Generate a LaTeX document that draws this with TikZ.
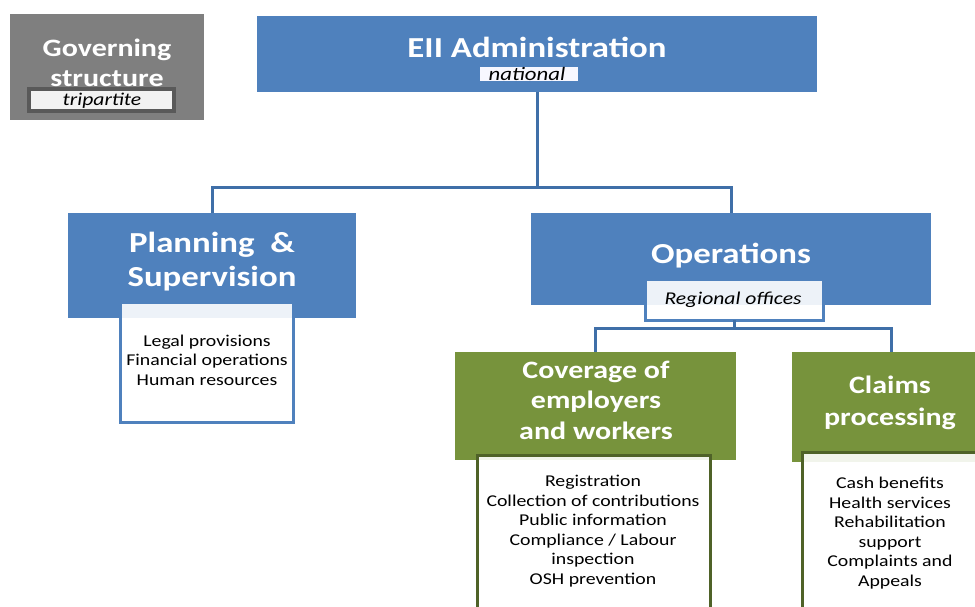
\documentclass[tikz,border=0pt]{standalone}
\usepackage{fontspec}
\setmainfont{Carlito}

\definecolor{eiiblue}{HTML}{4F81BD}
\definecolor{linkblue}{HTML}{3F6FA8}
\definecolor{govgrey}{HTML}{7F7F7F}
\definecolor{rimgrey}{HTML}{595959}
\definecolor{opsgreen}{HTML}{77933C}
\definecolor{rimgreen}{HTML}{4F6228}

\tikzset{
  pane/.style={rectangle,inner sep=0pt,outer sep=0pt},
  bluebox/.style={pane,fill=eiiblue},
  greenbox/.style={pane,fill=opsgreen},
  listbox/.style={pane,fill=white,fill opacity=0.9,draw=#1,line width=3pt},
  tag/.style={pane,fill=#1},
  txt/.style={inner sep=0pt,align=center,xscale=1.2},
  head/.style={txt,text=white,font=\fontsize{29}{34}\selectfont\bfseries},
  subhead/.style={txt,text=white,font=\fontsize{25}{30.5}\selectfont\bfseries},
  items/.style={txt,font=\fontsize{16.5}{19.5}\selectfont},
  remark/.style={txt,font=\fontsize{18}{20}\selectfont\itshape},
  link/.style={linkblue,line width=3pt}
}

\begin{document}
\begin{tikzpicture}[x=1pt,y=-1pt]
  \useasboundingbox (0,0) rectangle (975,607);
  \clip (0,0) rectangle (975,607);

%% governing structure, top left
  \node[pane,fill=govgrey,minimum width=194pt,minimum height=106pt] (GOV) at (107,67) {};
  \node[subhead,font=\fontsize{25}{30}\selectfont\bfseries] (GOVT) at (107,62.5) {Governing\\structure};
  \node[tag=rimgrey,minimum width=149pt,minimum height=26pt] (TRI) at (101.5,100) {};
  \node[tag=black!5,minimum width=141pt,minimum height=18pt] (TRII) at (101.5,100) {};
  \node[remark] (TRIT) at (102,100.5) {tripartite};

%% national level
  \node[bluebox,minimum width=560pt,minimum height=76pt] (EII) at (537,54) {};
  \node[head] (EIIT) at (537,47) {EII Administration};
  \node[tag=blue!3,minimum width=98pt,minimum height=14pt] (NAT) at (529,74) {};
  \node[remark,font=\fontsize{19}{20}\selectfont\itshape] (NATT) at (527,74) {national};

%% first level below
  \node[bluebox,minimum width=288pt,minimum height=105pt] (PLAN) at (212,265.5) {};
  \node[head] (PLANT) at (212,262) {Planning\ \ \&\\Supervision};
  \node[bluebox,minimum width=400pt,minimum height=92pt] (OPS) at (731,259) {};
  \node[head] (OPST) at (731,256) {Operations};

  \draw[link] (EII.south) -- ++(0,96) coordinate (J1);
  \draw[link] (PLAN.north) |- (J1) -| (OPS.north);

  \node[listbox=eiiblue,minimum width=173pt,minimum height=120pt] (PLIST) at (206.5,362) {};
  \node[items] (PLISTT) at (207,360) {Legal provisions\\Financial operations\\Human resources};

  \node[listbox=eiiblue,minimum width=178pt,minimum height=41pt] (REG) at (734,299.5) {};
  \node[remark] (REGT) at (733,300) {Regional offices};

%% regional level
  \node[greenbox,minimum width=281pt,minimum height=108pt] (COV) at (595.5,406) {};
  \node[subhead] (COVT) at (596,400) {Coverage of\\employers\\and workers};
  \node[greenbox,minimum width=198pt,minimum height=110pt] (CLM) at (891,407) {};
  \node[subhead,font=\fontsize{25}{32}\selectfont\bfseries] (CLMT) at (890,403) {Claims\\processing};

  \draw[link] (REG.south) -- ++(0,8) coordinate (J2);
  \draw[link] (COV.north) |- (J2) -| (CLM.north);

  \node[listbox=rimgreen,minimum width=233pt,minimum height=165pt] (CLIST) at (593.5,537.5) {};
  \node[items] (CLISTT) at (593,531) {Registration\\Collection of contributions\\Public information\\Compliance / Labour\\inspection\\OSH prevention};
  \node[listbox=rimgreen,minimum width=188pt,minimum height=168pt] (CLMLIST) at (896,536) {};
  \node[items] (CLMLISTT) at (890,533) {Cash benefits\\Health services\\Rehabilitation\\support\\Complaints and\\Appeals};

\end{tikzpicture}
\end{document}
